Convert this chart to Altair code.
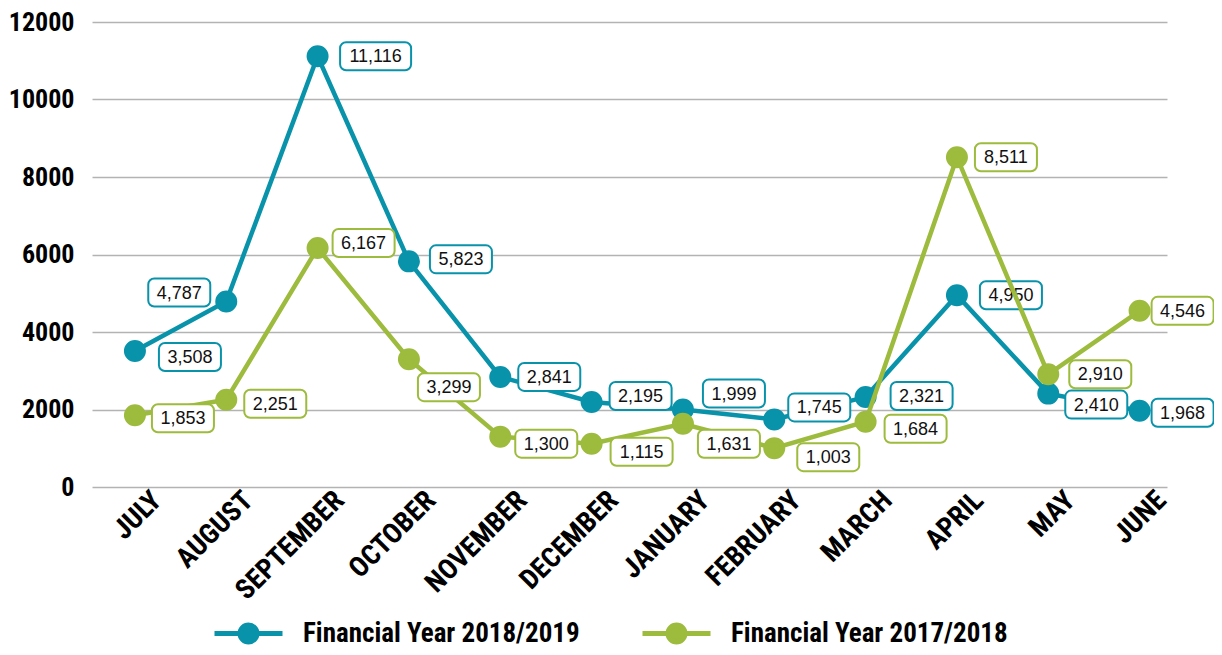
import json
import altair as alt
import pandas as pd

# ---------------- data ----------------
MONTHS = ["JULY", "AUGUST", "SEPTEMBER", "OCTOBER", "NOVEMBER", "DECEMBER",
          "JANUARY", "FEBRUARY", "MARCH", "APRIL", "MAY", "JUNE"]
SERIES = ["Financial Year 2018/2019", "Financial Year 2017/2018"]
FY_2018_2019 = [3508, 4787, 11116, 5823, 2841, 2195, 1999, 1745, 2321, 4950, 2410, 1968]
FY_2017_2018 = [1853, 2251, 6167, 3299, 1300, 1115, 1631, 1003, 1684, 8511, 2910, 4546]
Y_TICKS = [0, 2000, 4000, 6000, 8000, 10000, 12000]

# ---------------- layout / style ----------------
COLORS = ["#0993ab", "#9dbb3d"]
# label-box offsets in pixels from each point (right / down positive)
DX_1819 = [55, -47, 58, 52, 49, 49, 51, 45, 56, 54, 48, 43]
DY_1819 = [6, -9, 0, -2, 0, -6, -16, -12, -1, 0, 11, 2]
DX_1718 = [48, 49, 46, 40, 46, 50, 46, 54, 50, 49, 52, 43]
DY_1718 = [3, 4, -5, 28, 7, 8, 20, 9, 7, 0, 0, 0]

W, H = 1075, 465
X_DOMAIN = [-0.47, 11.3]
Y_DOMAIN = [0, 12000]
PX_X = W / (X_DOMAIN[1] - X_DOMAIN[0])
PX_Y = H / (Y_DOMAIN[1] - Y_DOMAIN[0])
BOX_H = 28
COND = "Liberation Sans Narrow, Roboto Condensed, Liberation Sans"

rows = []
for s, vals, dxs, dys in [(SERIES[0], FY_2018_2019, DX_1819, DY_1819),
                          (SERIES[1], FY_2017_2018, DX_1718, DY_1718)]:
    for i, v in enumerate(vals):
        lab = f"{v:,}"
        bw = 9 * len(lab) + 17
        lx = i + dxs[i] / PX_X
        ly = v - dys[i] / PX_Y
        rows.append(dict(idx=i, month=MONTHS[i], series=s, value=v, label=lab,
                         lx=lx, ly=ly,
                         bx1=lx - bw / 2 / PX_X, bx2=lx + bw / 2 / PX_X,
                         by1=ly - BOX_H / 2 / PX_Y, by2=ly + BOX_H / 2 / PX_Y))
df = pd.DataFrame(rows)

xscale = alt.Scale(domain=X_DOMAIN, nice=False, zero=False)
yscale = alt.Scale(domain=Y_DOMAIN, nice=False, zero=False)
cscale = alt.Scale(domain=SERIES, range=COLORS)

label_expr = json.dumps(MONTHS) + "[datum.value]"

x_axis = alt.Axis(values=list(range(12)), labelExpr=label_expr, labelAngle=315,
                  labelFont=COND, labelFontSize=28, labelFontWeight="bold",
                  labelColor="#000", labelAlign="right", labelBaseline="middle",
                  labelOffset=22, labelPadding=9, ticks=False, domain=False,
                  grid=False, title=None, labelOverlap=False)
y_axis = alt.Axis(values=Y_TICKS, format="d", labelFont=COND, labelFontSize=26,
                  labelFontWeight="bold", labelColor="#000", labelPadding=18,
                  ticks=False, domain=False, grid=True, gridColor="#b3b3b3",
                  gridWidth=1.5, title=None)

legend = alt.Legend(
    title=None, orient="none", direction="horizontal", legendX=143, legendY=598,
    symbolType="M-4,0H4M1,0A1,1,0,1,1,-1,0A1,1,0,1,1,1,0Z",
    symbolSize=289, symbolStrokeWidth=5, labelOffset=41, columnPadding=52,
    labelFont=COND, labelFontSize=27, labelFontWeight="bold", labelColor="#000",
    labelLimit=600, padding=0,
)


def X(field):
    return alt.X(field, scale=xscale, axis=x_axis)


def Y(field):
    return alt.Y(field, scale=yscale, axis=y_axis)


base = alt.Chart(df)
layers = []
for k, s in enumerate(SERIES):
    b = base.transform_filter(alt.datum.series == s)
    line = b.mark_line(strokeWidth=4.5, color=COLORS[k]).encode(
        x=X("idx:Q"), y=Y("value:Q"), order="idx:Q",
    )
    pts = b.mark_point(filled=False, size=289, strokeWidth=5, opacity=1).encode(
        x=X("idx:Q"), y=Y("value:Q"),
        fill=alt.Fill("series:N", scale=cscale, legend=legend),
        stroke=alt.Stroke("series:N", scale=cscale, legend=legend),
    )
    box = b.mark_rect(fill="white", stroke=COLORS[k], strokeWidth=2, cornerRadius=6).encode(
        x=X("bx1:Q"), x2="bx2:Q", y=Y("by1:Q"), y2="by2:Q",
    )
    txt = b.mark_text(font="Liberation Sans", fontSize=18, color="#111",
                      align="center", baseline="middle", dy=1).encode(
        x=X("lx:Q"), y=Y("ly:Q"), text="label:N",
    )
    layers += [line, pts, box, txt]

chart = alt.layer(*layers).properties(
    width=W, height=H,
    autosize=alt.AutoSizeParams(type="none"),
    padding={"left": 84, "top": 14, "right": 47, "bottom": 160},
).configure_view(stroke=None)

chart.save("out.html", embed_options={"renderer": "svg", "actions": False})
